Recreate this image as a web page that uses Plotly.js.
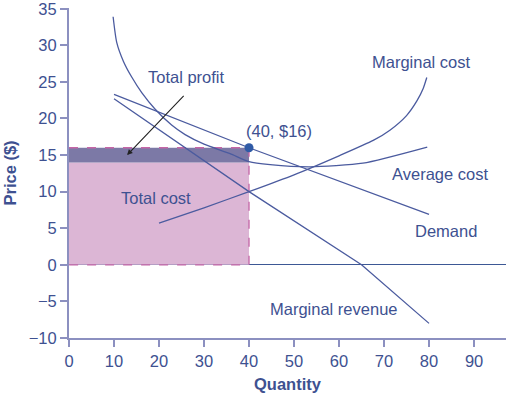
<!DOCTYPE html>
<html>
<head>
<meta charset="utf-8">
<script src="https://cdn.plot.ly/plotly-3.0.1.min.js"></script>
<style>html,body{margin:0;padding:0;background:#fff;}#chart{width:506px;height:398px;}</style>
</head>
<body>
<div id="chart"></div>
<script>
// Data
const demandQ = [10, 40, 80];
const demandP = [23.3, 16, 6.9];
const mrQ = [10, 40, 65, 80];
const mrP = [22.7, 10, 0, -8];
const mcQ = [20, 30, 40, 50, 60, 67.6, 71.3, 75, 77.3, 78.7, 79.5];
const mcP = [5.7, 7.8, 10, 12.3, 14.9, 17.0, 18.4, 20.4, 22.4, 24.1, 25.6];
const acQ = [9.8, 10.6, 12.1, 13.9, 16.2, 19.1, 22.8, 25.8, 30, 35.8, 40, 44.7, 53.6, 65.3, 79.6];
const acP = [33.9, 30.4, 27.8, 25.7, 23.5, 21.3, 19.1, 17.8, 16.5, 15.2, 14.1, 13.7, 13.4, 13.9, 16.1];
const qStar = 40;
const priceStar = 16;
const acStar = 14;
const pointLabel = "(40, $16)";
const xTicks = [0, 10, 20, 30, 40, 50, 60, 70, 80, 90];
const yTicks = [-10, -5, 0, 5, 10, 15, 20, 25, 30, 35];
const yTickText = ['\u221210', '\u22125', '0', '5', '10', '15', '20', '25', '30', '35'];

const curveColor = '#4b5b9f';
const textColor = '#3e5191';
const axisColor = '#8c90c0';
const font = 'Liberation Sans, Arial, sans-serif';
const fs = 16.5;

const traces = [
  {x: [0, qStar, qStar, 0, 0], y: [0, 0, acStar, acStar, 0], mode: 'lines', fill: 'toself',
   fillcolor: 'rgb(220,182,213)', line: {width: 0}, hoverinfo: 'skip'},
  {x: [0, qStar, qStar, 0, 0], y: [acStar, acStar, priceStar, priceStar, acStar], mode: 'lines', fill: 'toself',
   fillcolor: 'rgb(124,121,166)', line: {width: 0}, hoverinfo: 'skip'},
  {x: [0, qStar, qStar, 0], y: [priceStar, priceStar, 0, 0], mode: 'lines',
   line: {color: '#c466a6', width: 1.3, dash: 'dash'}, hoverinfo: 'skip'},
  {x: acQ, y: acP, mode: 'lines', line: {color: curveColor, width: 1.3, shape: 'spline', smoothing: 0.6}},
  {x: mcQ, y: mcP, mode: 'lines', line: {color: curveColor, width: 1.3, shape: 'spline', smoothing: 0.6}},
  {x: demandQ, y: demandP, mode: 'lines', line: {color: curveColor, width: 1.3}},
  {x: mrQ, y: mrP, mode: 'lines', line: {color: curveColor, width: 1.3}},
  {x: [qStar], y: [priceStar], mode: 'markers', marker: {color: '#2f5aa6', size: 9}}
];

const ann = (x, y, text) => ({x, y, xref: 'x', yref: 'y', text, showarrow: false,
  font: {family: font, size: fs, color: textColor}});

const layout = {
  width: 506, height: 398,
  margin: {l: 69, r: 0, t: 8, b: 60},
  paper_bgcolor: '#fff', plot_bgcolor: '#fff',
  showlegend: false,
  font: {family: font, color: textColor, size: fs},
  xaxis: {
    range: [0, 97.1], tickvals: xTicks,
    showgrid: false, zeroline: false,
    showline: true, linecolor: axisColor, linewidth: 2,
    ticks: 'outside', ticklen: 7, tickwidth: 2, tickcolor: axisColor,
    tickfont: {family: font, size: fs, color: textColor},
    ticklabeloverflow: 'allow',
    title: {text: '<b>Quantity</b>', font: {family: font, size: fs, color: textColor}, standoff: 10}
  },
  yaxis: {
    range: [-10, 35.1], tickvals: yTicks, ticktext: yTickText,
    showgrid: false, zeroline: true, zerolinecolor: '#3d5895', zerolinewidth: 1.2,
    showline: true, linecolor: axisColor, linewidth: 2,
    ticks: 'outside', ticklen: 7, tickwidth: 2, tickcolor: axisColor,
    tickfont: {family: font, size: fs, color: textColor},
    ticklabeloverflow: 'allow',
    title: {text: '<b>Price ($)</b>', font: {family: font, size: fs, color: textColor}, standoff: 8}
  },
  annotations: [
    ann(26, 25.7, 'Total profit'),
    ann(46.6, 18.3, pointLabel),
    ann(78.4, 27.7, 'Marginal cost'),
    ann(82.4, 12.4, 'Average cost'),
    ann(83.8, 4.6, 'Demand'),
    ann(19.3, 9.2, 'Total cost'),
    ann(58.9, -6.0, 'Marginal revenue'),
    {x: 12.9, y: 15.0, ax: 25.8, ay: 23.3, xref: 'x', yref: 'y', axref: 'x', ayref: 'y',
     text: '', showarrow: true, arrowhead: 2, arrowsize: 1, arrowwidth: 1.1, arrowcolor: '#222'}
  ]
};

Plotly.newPlot('chart', traces, layout, {displayModeBar: false, staticPlot: true});
</script>
</body>
</html>
